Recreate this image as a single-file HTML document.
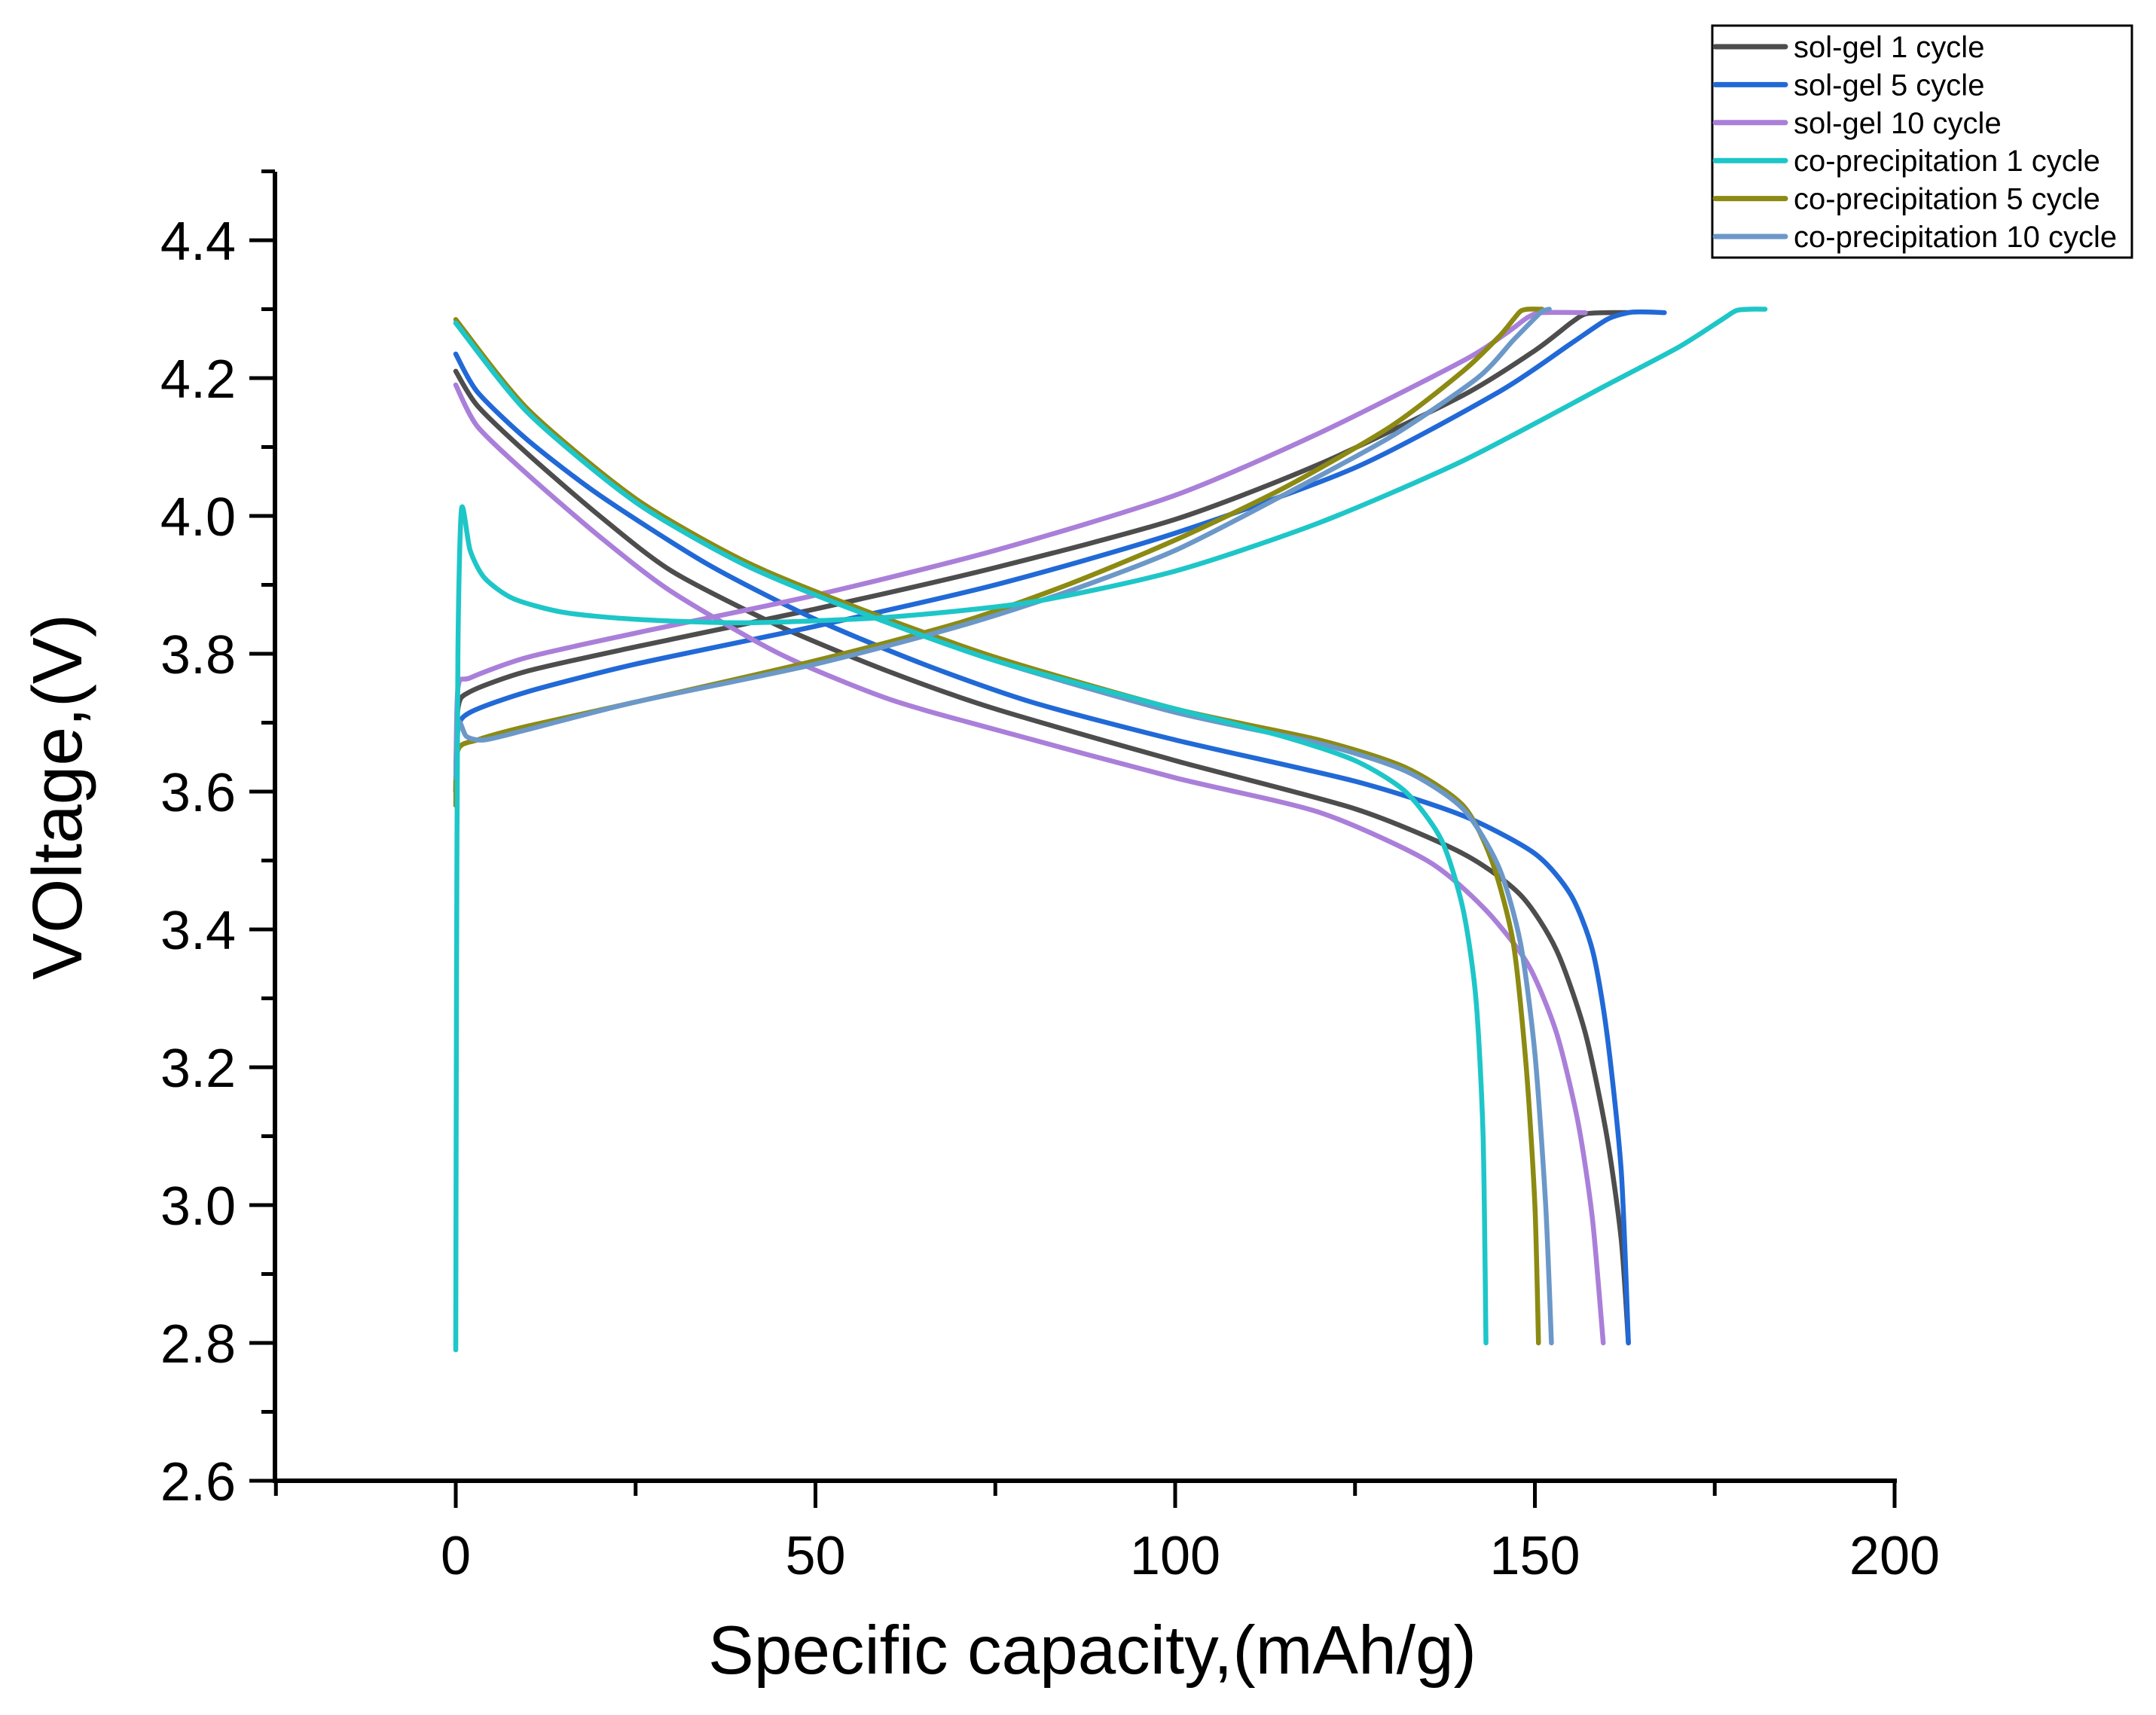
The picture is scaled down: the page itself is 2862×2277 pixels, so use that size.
<!DOCTYPE html>
<html><head><meta charset="utf-8"><style>
html,body{margin:0;padding:0;background:#fff;}
svg{display:block;font-family:"Liberation Sans",Arial,sans-serif;}
</style></head><body>
<svg id="chart" width="2862" height="2277" viewBox="0 0 2862 2277" xmlns="http://www.w3.org/2000/svg">
<g id="series"></g>
<g id="axes"></g>
<text x="1450" y="2222" font-size="91" text-anchor="middle">Specific capacity,(mAh/g)</text>
<text transform="translate(108,1058) rotate(-90)" font-size="93" text-anchor="middle">VOltage,(V)</text>
<g id="legend"></g>
</svg>
<script>
const xTicks=[0,50,100,150,200];
const yTicks=[2.6,2.8,3.0,3.2,3.4,3.6,3.8,4.0,4.2,4.4];
const seriesNames=["sol-gel 1 cycle","sol-gel 5 cycle","sol-gel 10 cycle","co-precipitation 1 cycle","co-precipitation 5 cycle","co-precipitation 10 cycle"];
const seriesColors=["#4d4d4d","#2169d6","#aa7fd9","#1ec6c8","#8c8a12","#6b98c8"];
const sg1Charge=[[0,3.6],[0.3,3.72],[2,3.745],[10,3.775],[25,3.81],[50,3.865],[75,3.925],[100,3.995],[120,4.075],[140,4.175],[150,4.24],[155,4.28],[157,4.293],[160,4.295],[163,4.295]];
const sg1Dis=[[0,4.21],[3,4.16],[10,4.09],[20,4.0],[30,3.92],[45,3.84],[60,3.775],[75,3.72],[100,3.645],[125,3.575],[140,3.51],[148,3.45],[153,3.37],[157,3.25],[160,3.1],[162,2.95],[163,2.8]];
const sg5Charge=[[0,3.6],[0.3,3.69],[2,3.715],[10,3.745],[25,3.785],[50,3.84],[75,3.9],[100,3.975],[125,4.07],[145,4.18],[155,4.25],[160,4.285],[163,4.295],[165,4.296],[168,4.295]];
const sg5Dis=[[0,4.235],[3,4.18],[10,4.11],[20,4.03],[35,3.93],[50,3.85],[65,3.785],[80,3.73],[100,3.675],[125,3.615],[140,3.565],[150,3.51],[155,3.45],[158,3.37],[160,3.25],[162,3.05],[163,2.8]];
const sg10Charge=[[0,3.6],[0.3,3.75],[2,3.765],[10,3.795],[25,3.83],[50,3.885],[75,3.95],[100,4.03],[120,4.12],[140,4.225],[146,4.265],[149,4.288],[151,4.295],[157,4.295]];
const sg10Dis=[[0,4.19],[3,4.13],[10,4.06],[20,3.97],[30,3.89],[45,3.8],[60,3.735],[75,3.69],[100,3.62],[120,3.57],[135,3.5],[143,3.43],[149,3.35],[153,3.25],[156,3.12],[158,2.98],[159.5,2.8]];
const cp1Charge=[[0,2.79],[0.1,3.3],[0.3,3.8],[0.8,4.01],[2,3.95],[4,3.91],[8,3.88],[15,3.86],[25,3.85],[40,3.845],[60,3.853],[80,3.875],[100,3.92],[120,3.99],[140,4.08],[160,4.19],[170,4.245],[176,4.285],[178,4.298],[180,4.3],[182,4.3]];
const cp1Dis=[[0,4.28],[10,4.15],[25,4.02],[40,3.93],[55,3.865],[75,3.79],[100,3.72],[115,3.68],[125,3.645],[132,3.6],[137,3.53],[140,3.43],[141.8,3.3],[142.8,3.1],[143.2,2.8]];
const cp5Charge=[[0,3.58],[0.3,3.66],[3,3.675],[10,3.695],[25,3.73],[50,3.79],[70,3.845],[85,3.9],[100,3.965],[115,4.04],[130,4.13],[140,4.21],[145,4.26],[147,4.285],[148,4.297],[149,4.3],[151,4.3]];
const cp5Dis=[[0,4.285],[10,4.155],[25,4.025],[40,3.935],[55,3.87],[75,3.795],[100,3.72],[120,3.675],[132,3.635],[140,3.58],[144,3.5],[147,3.38],[148.8,3.2],[150,3.0],[150.5,2.8]];
const cp10Charge=[[0,3.62],[0.4,3.7],[1.5,3.68],[4,3.675],[10,3.69],[25,3.73],[50,3.785],[70,3.84],[85,3.89],[100,3.95],[115,4.03],[130,4.115],[142,4.2],[147,4.255],[150,4.287],[151,4.297],[152,4.3]];
const cp10Dis=[[0,4.28],[10,4.15],[25,4.02],[40,3.93],[55,3.865],[75,3.79],[100,3.715],[120,3.67],[132,3.63],[140,3.575],[145,3.49],[148,3.38],[150,3.22],[151.5,3.0],[152.3,2.8]];
const seriesData=[[sg1Charge,sg1Dis],[sg5Charge,sg5Dis],[sg10Charge,sg10Dis],[cp1Charge,cp1Dis],[cp5Charge,cp5Dis],[cp10Charge,cp10Dis]];

const NS="http://www.w3.org/2000/svg";
const X0=365,X1=2515,Y0=1966,Y1=228;
function xs(v){return 605+v*(X1-605)/200;}
function ys(v){return Y0-(v-2.6)*(Y0-319)/1.8;}
function mk(tag,attrs,parent){const e=document.createElementNS(NS,tag);for(const k in attrs)e.setAttribute(k,attrs[k]);parent.appendChild(e);return e;}
function pathFor(pts){
  const p=pts.map(d=>[xs(d[0]),ys(d[1])]);
  let s="M"+p[0][0]+","+p[0][1];
  for(let i=0;i<p.length-1;i++){
    const a=p[i-1]||p[i],b=p[i],c=p[i+1],d=p[i+2]||c;
    const c1=[b[0]+(c[0]-a[0])/8,b[1]+(c[1]-a[1])/8],c2=[c[0]-(d[0]-b[0])/8,c[1]-(d[1]-b[1])/8];
    s+=" C"+c1[0]+","+c1[1]+" "+c2[0]+","+c2[1]+" "+c[0]+","+c[1];
  }
  return s;
}
const sg=document.getElementById('series');
const order=[0,1,2,4,5,3];
order.forEach(i=>{
  seriesData[i].forEach((pts,j)=>{
    const el=mk('path',{d:pathFor(pts),fill:'none',stroke:seriesColors[i],'stroke-width':6.5,'stroke-linejoin':'round','stroke-linecap':'round'},sg);
    
    
  });
});
const ax=document.getElementById('axes');
let e=mk('line',{x1:X0,y1:Y0,x2:X1+3,y2:Y0,stroke:'#000','stroke-width':6},ax);


e=mk('line',{x1:X0,y1:Y0+3,x2:X0,y2:Y1,stroke:'#000','stroke-width':6},ax);


for(let v=-25;v<=200;v+=25){
  const major=v%50===0;
  e=mk('line',{x1:xs(v),y1:Y0,x2:xs(v),y2:Y0+(major?36:20),stroke:'#000','stroke-width':5},ax);
  
  
}
xTicks.forEach(v=>{
  const t=mk('text',{x:xs(v),y:2090,'font-size':72,'text-anchor':'middle'},ax);t.textContent=String(v);
  
  
});
for(let k=0;k<=19;k++){
  const v=2.6+k*0.1;const major=k%2===0;
  e=mk('line',{x1:X0,y1:ys(v),x2:X0-(major?34:18),y2:ys(v),stroke:'#000','stroke-width':5},ax);
  
  
}
yTicks.forEach(v=>{
  const t=mk('text',{x:313,y:ys(v)+26,'font-size':72,'text-anchor':'end'},ax);t.textContent=v.toFixed(1);
  
  
});
const lg=document.getElementById('legend');
e=mk('rect',{x:2273,y:34,width:557,height:308,fill:'#fff',stroke:'#000','stroke-width':3},lg);


seriesNames.forEach((n,i)=>{
  const y=62+i*50.4;
  const l=mk('line',{x1:2277,y1:y,x2:2370,y2:y,stroke:seriesColors[i],'stroke-width':7,'stroke-linecap':'round'},lg);
  
  
  const t=mk('text',{x:2381,y:y+14,'font-size':40},lg);t.textContent=n;
  
  
});
</script>
</body></html>
